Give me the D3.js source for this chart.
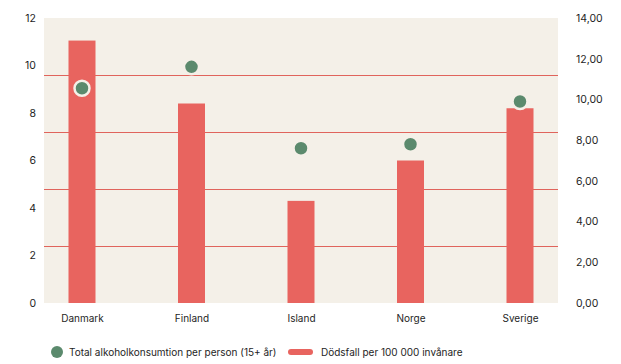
<!DOCTYPE html>
<html><head><meta charset="utf-8">
<script src="https://cdn.jsdelivr.net/npm/d3@7"></script>
<style>body{margin:0;background:#fff}svg{display:block}text{font-family:Inter,"Open Sans",sans-serif;fill:#1e1e1e}</style>
</head><body>
<svg id="c" width="621" height="364"></svg>
<script>
const categories = ["Danmark","Finland","Island","Norge","Sverige"];
const deaths = [11.05, 8.4, 4.3, 6.0, 8.2];            // bars, left axis
const consumption = [10.55, 11.6, 7.6, 7.8, 9.9];     // dots, right axis
const leftTicks = [0,2,4,6,8,10,12];
const rightTicks = [0,2,4,6,8,10,12,14];
const seriesNames = ["Total alkoholkonsumtion per person (15+ år)","Dödsfall per 100 000 invånare"];

const svg = d3.select("#c");
const L=44, R=558, T=18, B=303;
const x = d3.scalePoint().domain(categories).range([L,R]).padding(0.347);
const yL = d3.scaleLinear().domain([0,12]).range([B,T]);
const yR = d3.scaleLinear().domain([0,14]).range([B,T]);
const yG = d3.scaleLinear().domain([0,5]).range([B,T]);
const red="#E8645F", green="#5B8A6D", beige="#F4F0E8";

svg.append("rect").attr("x",L).attr("y",T).attr("width",R-L).attr("height",B-T).attr("fill",beige);
svg.append("g").selectAll("line").data([1,2,3,4]).join("line")
  .attr("x1",L).attr("x2",R).attr("y1",d=>Math.round(yG(d))+0.5).attr("y2",d=>Math.round(yG(d))+0.5)
  .attr("stroke","#E0645C").attr("stroke-width",1);

const bw=27;
svg.append("g").selectAll("rect").data(deaths).join("rect")
  .attr("x",(d,i)=>x(categories[i])-bw/2).attr("width",bw)
  .attr("y",d=>yL(d)).attr("height",d=>B-yL(d)).attr("fill",red);

svg.append("g").selectAll("circle").data(consumption).join("circle")
  .attr("cx",(d,i)=>x(categories[i])).attr("cy",d=>yR(d)).attr("r",7.5)
  .attr("fill",green).attr("stroke",beige).attr("stroke-width",2.5);

const gl = svg.append("g").attr("transform",`translate(${L},0)`)
  .call(d3.axisLeft(yL).tickValues(leftTicks).tickSize(0).tickPadding(8));
gl.select(".domain").remove();
gl.selectAll("text").attr("font-size",10.5);

const gr = svg.append("g").attr("transform",`translate(${R},0)`)
  .call(d3.axisRight(yR).tickValues(rightTicks).tickSize(0).tickPadding(18).tickFormat(d=>d3.format(".2f")(d).replace(".",",")));
gr.select(".domain").remove();
gr.selectAll("text").attr("font-size",10.5);

const gx = svg.append("g").attr("transform",`translate(0,${B})`)
  .call(d3.axisBottom(x).tickSize(0).tickPadding(12));
gx.select(".domain").remove();
gx.selectAll("text").attr("font-size",10);

const lg = svg.append("g").attr("transform","translate(0,352)");
lg.append("circle").attr("cx",57).attr("cy",0).attr("r",6).attr("fill",green);
lg.append("text").attr("x",69).attr("y",0).attr("dy","0.35em").attr("font-size",10).text(seriesNames[0]);
lg.append("rect").attr("x",288).attr("y",-3).attr("width",25).attr("height",6).attr("rx",3).attr("fill",red);
lg.append("text").attr("x",321).attr("y",0).attr("dy","0.35em").attr("font-size",10).text(seriesNames[1]);
</script>
</body></html>
